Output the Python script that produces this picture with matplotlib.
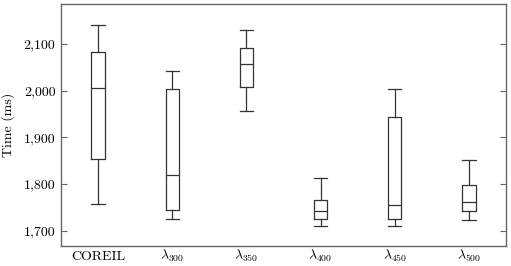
import matplotlib
matplotlib.use("Agg")
import matplotlib.pyplot as plt
from matplotlib.ticker import FuncFormatter

plt.rcParams['font.family'] = 'serif'
plt.rcParams['font.serif'] = ['cmr10', 'DejaVu Serif']
plt.rcParams['mathtext.fontset'] = 'cm'
plt.rcParams['axes.formatter.use_mathtext'] = True

categories = ['COREIL', r'$\lambda_{300}$', r'$\lambda_{350}$', r'$\lambda_{400}$', r'$\lambda_{450}$', r'$\lambda_{500}$']
whislo = [1757, 1724, 1956, 1710, 1709, 1722]
q1 = [1853, 1744, 2007, 1724, 1724, 1741]
med = [2006, 1820, 2058, 1741, 1755, 1762]
q3 = [2082, 2004, 2092, 1765, 1943, 1797]
whishi = [2141, 2042, 2130, 1812, 2004, 1852]
yticks = [1700, 1800, 1900, 2000, 2100]

stats = []
for i, c in enumerate(categories):
    stats.append(dict(label=c, whislo=whislo[i], q1=q1[i], med=med[i], q3=q3[i], whishi=whishi[i], fliers=[]))

fig = plt.figure(figsize=(5.11, 2.66), dpi=100)
ax = fig.add_axes([61/511, 20/266, 445/511, 242/266])

lc = '#333333'
ax.bxp(stats, positions=range(1, len(categories) + 1), widths=0.18, showfliers=False,
       boxprops=dict(color=lc, linewidth=0.9),
       whiskerprops=dict(color=lc, linewidth=0.9),
       capprops=dict(color=lc, linewidth=0.9),
       medianprops=dict(color=lc, linewidth=0.9),
       capwidths=0.18)

ax.set_xlim(0.5, 6.5)
ax.set_ylim(1667, 2186)
ax.set_yticks(yticks)
ax.yaxis.set_major_formatter(FuncFormatter(lambda v, p: f"{int(v):,}"))
ax.tick_params(axis='y', direction='in', length=4, width=0.8, color='#666666', right=True, labelsize=10, pad=4)
ax.tick_params(axis='x', length=0, labelsize=10, pad=10)
for lab in ax.get_xticklabels():
    lab.set_verticalalignment('baseline')
for s in ax.spines.values():
    s.set_color('#666666')
    s.set_linewidth(1.0)
ax.set_ylabel('Time (ms)', fontsize=10, labelpad=6)

fig.savefig('out.png', dpi=100)
